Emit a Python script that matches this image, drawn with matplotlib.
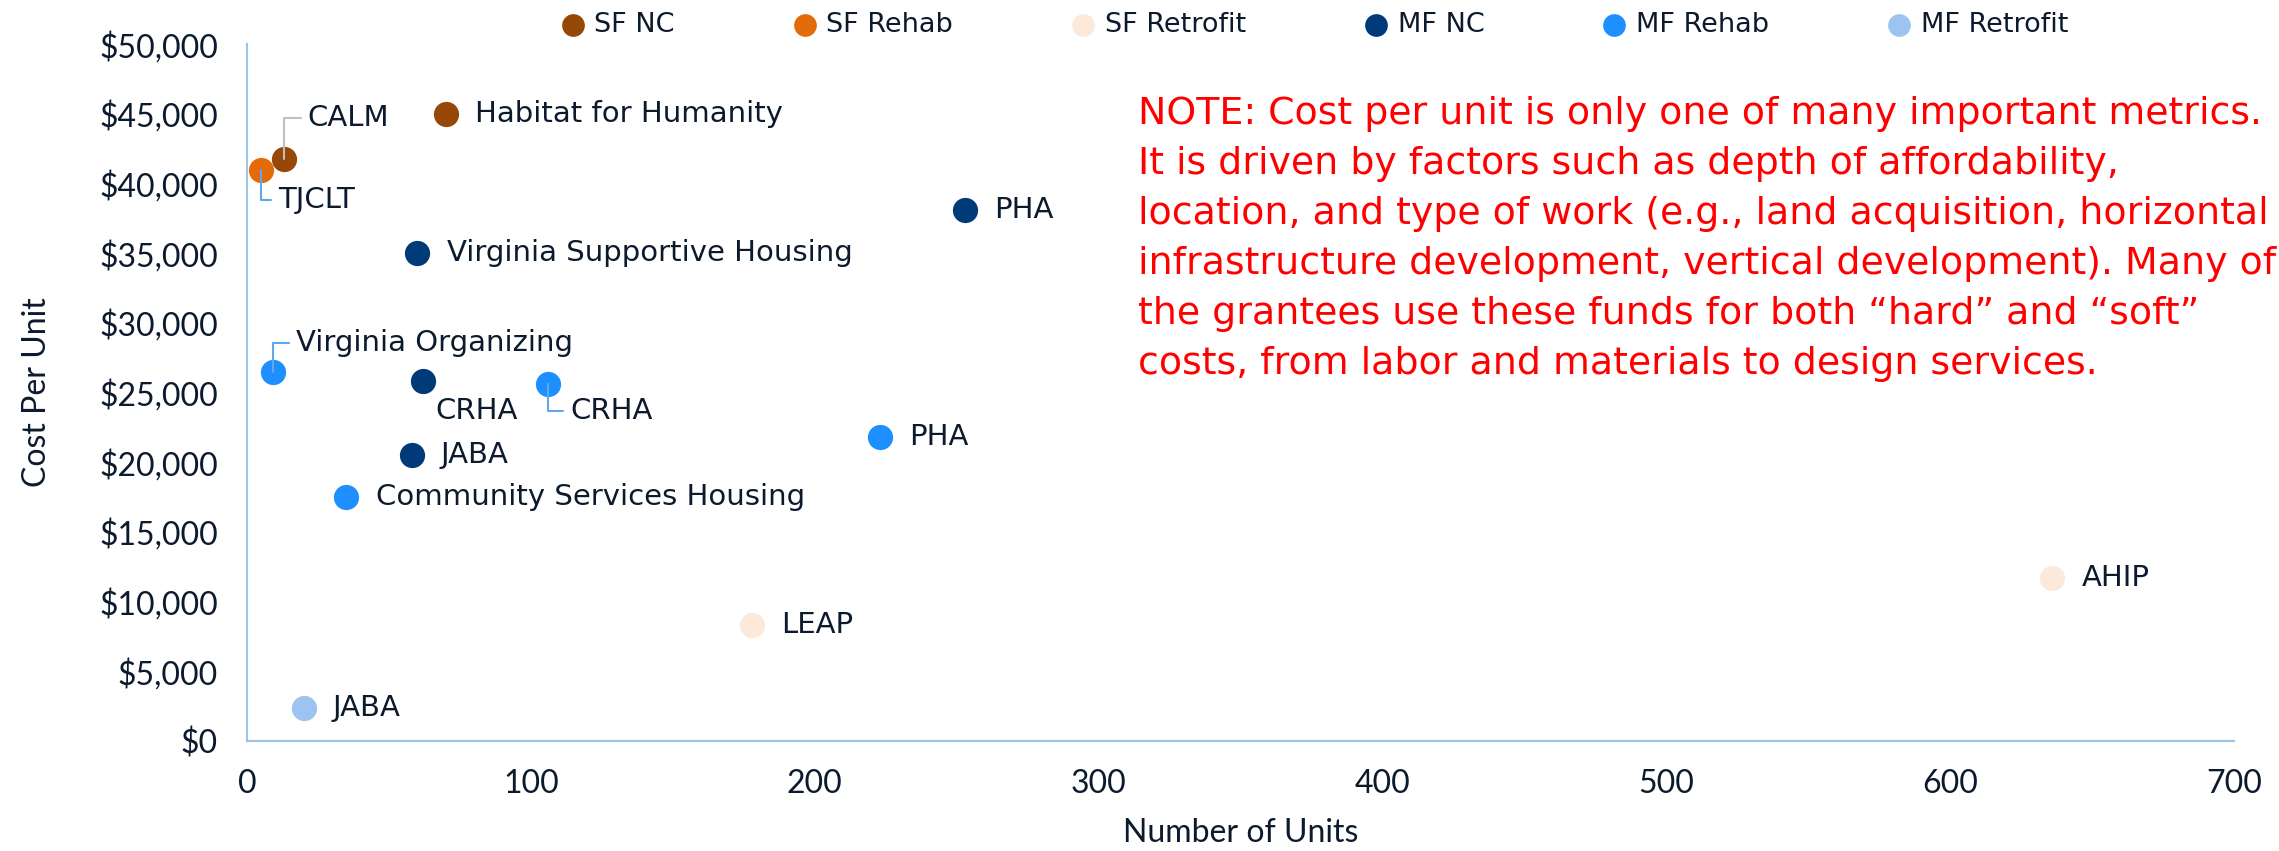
import matplotlib
matplotlib.use("Agg")
import matplotlib.pyplot as plt
from matplotlib.ticker import FuncFormatter

plt.rcParams['font.family'] = ['DejaVu Sans']

# series: (name, colour, units, cost per unit, labels)
series_names = ["SF NC", "SF Rehab", "SF Retrofit", "MF NC", "MF Rehab", "MF Retrofit"]
series_colors = ["#974706", "#E36C09", "#FDE9D9", "#003A78", "#1E8FFF", "#9DC3F0"]

sf_nc_units = [13, 70]
sf_nc_cost = [41800, 45000]
sf_nc_labels = ["CALM", "Habitat for Humanity"]

sf_rehab_units = [5]
sf_rehab_cost = [41000]
sf_rehab_labels = ["TJCLT"]

sf_retro_units = [178, 636]
sf_retro_cost = [8300, 11700]
sf_retro_labels = ["LEAP", "AHIP"]

mf_nc_units = [253, 60, 62, 58]
mf_nc_cost = [38100, 35000, 25800, 20500]
mf_nc_labels = ["PHA", "Virginia Supportive Housing", "CRHA", "JABA"]

mf_rehab_units = [9, 106, 223, 35]
mf_rehab_cost = [26500, 25600, 21800, 17500]
mf_rehab_labels = ["Virginia Organizing", "CRHA", "PHA", "Community Services Housing"]

mf_retro_units = [20]
mf_retro_cost = [2400]
mf_retro_labels = ["JABA"]

all_units = [sf_nc_units, sf_rehab_units, sf_retro_units, mf_nc_units, mf_rehab_units, mf_retro_units]
all_cost = [sf_nc_cost, sf_rehab_cost, sf_retro_cost, mf_nc_cost, mf_rehab_cost, mf_retro_cost]
all_labels = [sf_nc_labels, sf_rehab_labels, sf_retro_labels, mf_nc_labels, mf_rehab_labels, mf_retro_labels]

note = ("NOTE: Cost per unit is only one of many important metrics.\n"
        "It is driven by factors such as depth of affordability,\n"
        "location, and type of work (e.g., land acquisition, horizontal\n"
        "infrastructure development, vertical development). Many of\n"
        "the grantees use these funds for both \u201chard\u201d and \u201csoft\u201d\n"
        "costs, from labor and materials to design services.")

TXT = "#0c1a2e"
SPINE = "#9DC3E6"
AXFONT = ['Lato', 'DejaVu Sans']

# label offsets in points (dx, dy) and leader line colour (None = no leader)
special = {
    ("SF NC", "CALM"): (17, 29, "#bfbfbf"),
    ("SF Rehab", "TJCLT"): (12, -22, "#5fa8f0"),
    ("MF Rehab", "Virginia Organizing"): (17, 21, "#5fa8f0"),
    ("MF Rehab", "CRHA"): (16, -19, "#5fa8f0"),
    ("MF NC", "CRHA"): (9, -21, None),
}

fig = plt.figure(figsize=(22.79, 8.51), dpi=100)
ax = fig.add_axes([0.1084, 0.1293, 0.8718, 0.8187])

for name, color, xs, ys, labs in zip(series_names, series_colors, all_units, all_cost, all_labels):
    ax.scatter(xs, ys, s=330, color=color, label=name, zorder=3, linewidths=0)
    for x, y, lab in zip(xs, ys, labs):
        key = (name, lab)
        if key in special:
            dx, dy, lc = special[key]
            if lc is None:
                ax.annotate(lab, (x, y), xytext=(dx, dy), textcoords='offset points',
                            fontsize=21, color=TXT, va='center', ha='left')
            else:
                ax.annotate(lab, (x, y), xytext=(dx, dy), textcoords='offset points',
                            fontsize=21, color=TXT, va='center', ha='left',
                            arrowprops=dict(arrowstyle='-', color=lc, lw=1.5,
                                            shrinkA=3, shrinkB=0,
                                            connectionstyle='angle,angleA=0,angleB=90,rad=0'))
        else:
            ax.annotate(lab, (x, y), xytext=(21, 0), textcoords='offset points',
                        fontsize=21, color=TXT, va='center', ha='left')

ax.set_xlim(0, 700)
ax.set_ylim(0, 50000)
ax.set_xticks(range(0, 701, 100))
ax.set_yticks(range(0, 50001, 5000))
ax.yaxis.set_major_formatter(FuncFormatter(lambda v, p: "${:,.0f}".format(v)))
ax.tick_params(length=0, colors=TXT)
ax.tick_params(axis='y', pad=21)
ax.tick_params(axis='x', pad=20)
for lbl in ax.get_xticklabels() + ax.get_yticklabels():
    lbl.set_family(AXFONT)
    lbl.set_fontsize(23)
for s in ["top", "right"]:
    ax.spines[s].set_visible(False)
for s in ["left", "bottom"]:
    ax.spines[s].set_color(SPINE)
    ax.spines[s].set_linewidth(1.5)

ax.set_xlabel("Number of Units", fontsize=23, color=TXT, labelpad=14, family=AXFONT)
ax.set_ylabel("Cost Per Unit", fontsize=23, color=TXT, labelpad=34, family=AXFONT)

fig.text(0.4994, 0.887, note, fontsize=27.3, color="#FF0000", ha='left', va='top',
         linespacing=1.5)

fig.legend(loc='center', bbox_to_anchor=(0.577, 0.971), ncol=6, frameon=False,
           fontsize=19.5, handlelength=0.8, handletextpad=0.4, columnspacing=4.4,
           markerscale=0.9, labelcolor=TXT)

fig.savefig("out.png", dpi=100)
